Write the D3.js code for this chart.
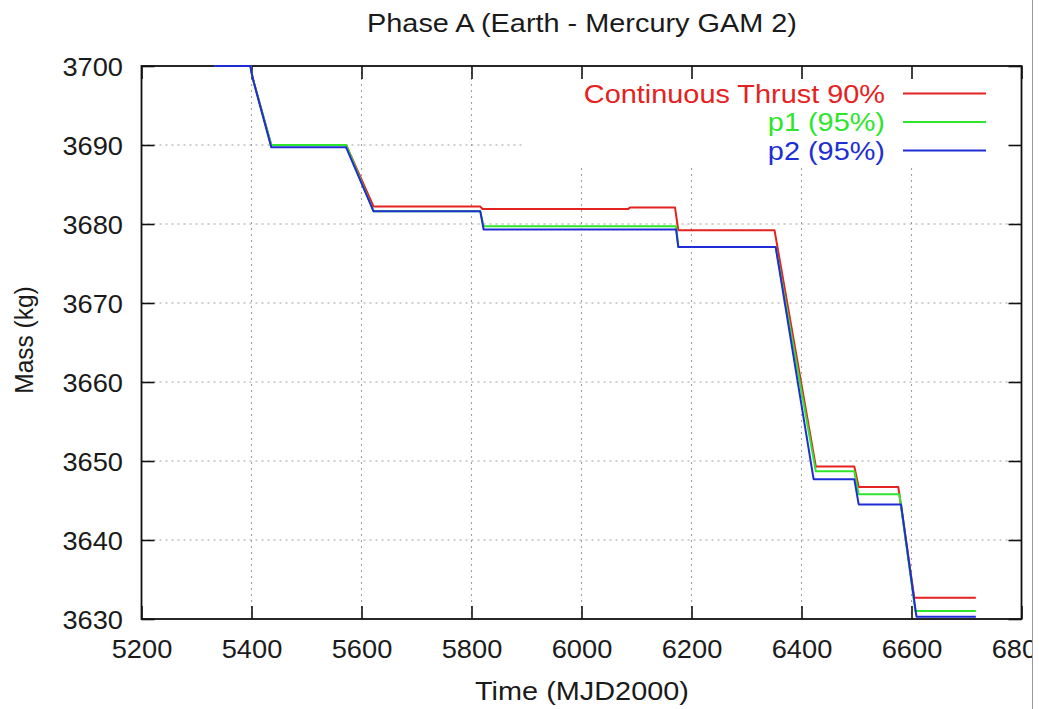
<!DOCTYPE html>
<html><head><meta charset="utf-8">
<script src="https://cdn.jsdelivr.net/npm/d3@7"></script>
<style>body{margin:0;background:#fff} text{font-family:"Liberation Sans",Arial,sans-serif}</style>
</head><body><svg id="c" width="1039" height="709"></svg>
<script>
const xTicks = [5200,5400,5600,5800,6000,6200,6400,6600,6800];
const yTicks = [3630,3640,3650,3660,3670,3680,3690,3700];
const seriesNames = ["Continuous Thrust 90%","p1 (95%)","p2 (95%)"];

const redT = [5332,5398,5402,5436,5572,5622,5816,5820,6085,6088,6170,6176,6351,6426,6496,6504,6576,6605,6717];
const redM = [3700,3700,3698.5,3690.0,3690.0,3682.2,3682.2,3681.9,3681.9,3682.1,3682.1,3679.2,3679.2,3649.3,3649.3,3646.7,3646.7,3632.7,3632.7];

const greenT = [5332,5398,5402,5436,5572,5622,5816,5822,6172,6176,6353,6426,6496,6504,6578,6607,6717];
const greenM = [3700,3700,3698.5,3690.0,3690.0,3681.6,3681.6,3679.7,3679.7,3677.1,3677.1,3648.7,3648.7,3645.8,3645.8,3631.0,3631.0];

const blueT = [5332,5398,5402,5436,5572,5622,5816,5822,6172,6176,6353,6422,6496,6504,6581,6609,6717];
const blueM = [3700,3700,3698.5,3689.7,3689.7,3681.6,3681.6,3679.3,3679.3,3677.1,3677.1,3647.7,3647.7,3644.5,3644.5,3630.3,3630.3];

const colors = ["#e4221f","#2ee52e","#1e2ed4"];
const series = [[redT,redM],[greenT,greenM],[blueT,blueM]].map(([t,m],i)=>({
  name: seriesNames[i], color: colors[i], pts: t.map((v,j)=>({t:v,m:m[j]}))
}));

const L=141.5, R=1021.5, T=66, B=619;
const x = d3.scaleLinear().domain([5200,6800]).range([L,R]);
const y = d3.scaleLinear().domain([3630,3700]).range([B,T]);
const SX = 1.09;
const svg = d3.select("#c");
svg.append("rect").attr("width",1039).attr("height",709).attr("fill","#fff");

// grid
const grid = svg.append("g").attr("stroke","#a0a0a0").attr("stroke-width",1.1).attr("stroke-dasharray","2,4");
xTicks.slice(1,-1).forEach(v=>grid.append("line").attr("x1",x(v)).attr("x2",x(v)).attr("y1",T).attr("y2",B));
yTicks.slice(1,-1).forEach(v=>grid.append("line").attr("y1",y(v)).attr("y2",y(v)).attr("x1",L).attr("x2",R));
// key blank area
svg.append("rect").attr("x",523).attr("y",T+1).attr("width",R-523-1).attr("height",98).attr("fill","#fff");

// axes (inward ticks)
const tk = 13;
const gB = svg.append("g").attr("transform",`translate(0,${B})`)
  .call(d3.axisBottom(x).tickValues(xTicks).tickSize(-tk).tickPadding(0).tickFormat(d3.format("d")));
const gT = svg.append("g").attr("transform",`translate(0,${T})`)
  .call(d3.axisTop(x).tickValues(xTicks).tickSize(-tk).tickFormat(""));
const gL = svg.append("g").attr("transform",`translate(${L},0)`)
  .call(d3.axisLeft(y).tickValues(yTicks).tickSize(-tk).tickFormat(d3.format("d")));
const gR = svg.append("g").attr("transform",`translate(${R},0)`)
  .call(d3.axisRight(y).tickValues(yTicks).tickSize(-tk).tickFormat(""));
[gB,gT,gL,gR].forEach(g=>{
  g.select(".domain").remove();
  g.selectAll(".tick line").attr("stroke","#111").attr("stroke-width",1.6);
});
gB.selectAll("text").attr("y",null).attr("dy",null).attr("font-size",25).attr("fill","#1a1a1a")
  .attr("font-family","Liberation Sans, Arial, sans-serif")
  .attr("transform",`translate(0,39) scale(${SX},1)`);
gL.selectAll("text").attr("x",null).attr("dy",null).attr("font-size",25).attr("fill","#1a1a1a")
  .attr("font-family","Liberation Sans, Arial, sans-serif")
  .attr("transform",`translate(-18.5,9) scale(${SX},1)`);

// frame
svg.append("rect").attr("x",L).attr("y",T).attr("width",R-L).attr("height",B-T)
  .attr("fill","none").attr("stroke","#111").attr("stroke-width",1.8);

// data (drawn over frame, as in the reference)
const line = d3.line().x(d=>x(d.t)).y(d=>y(d.m));
series.forEach(s=>{
  svg.append("path").attr("d",line(s.pts)).attr("fill","none").attr("stroke",s.color)
    .attr("stroke-width",2).attr("stroke-linejoin","round");
});

// legend
const rowsY = [93.5,122,150.5];
series.forEach((s,i)=>{
  svg.append("text").attr("transform",`translate(885,${rowsY[i]+9}) scale(${SX},1)`)
    .attr("text-anchor","end").attr("font-size",26.5).attr("fill",s.color).text(s.name);
  svg.append("line").attr("x1",903).attr("x2",986).attr("y1",rowsY[i]).attr("y2",rowsY[i])
    .attr("stroke",s.color).attr("stroke-width",2);
});

// titles
svg.append("text").attr("transform",`translate(582,32) scale(${SX},1)`).attr("text-anchor","middle")
  .attr("font-size",26.5).attr("fill","#1a1a1a").text("Phase A (Earth - Mercury GAM 2)");
svg.append("text").attr("transform",`translate(582,700) scale(${SX},1)`).attr("text-anchor","middle")
  .attr("font-size",26.5).attr("fill","#1a1a1a").text("Time (MJD2000)");
svg.append("text").attr("transform","translate(33,340) rotate(-90) scale(1,1.08)").attr("text-anchor","middle")
  .attr("font-size",24.5).attr("fill","#1a1a1a").text("Mass (kg)");

// right edge crop (the reference image is cut here)
svg.append("rect").attr("x",1033).attr("y",0).attr("width",6).attr("height",709).attr("fill","#fff");
svg.append("line").attr("x1",1032.5).attr("x2",1032.5).attr("y1",0).attr("y2",709).attr("stroke","#999").attr("stroke-width",1);
</script></body></html>
